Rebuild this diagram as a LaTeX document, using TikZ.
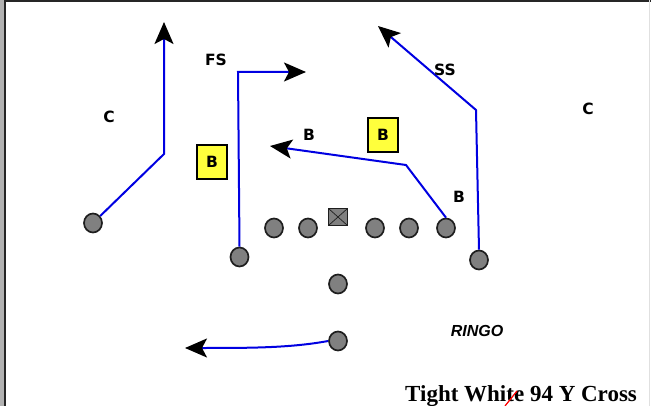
\documentclass[tikz,border=0pt]{standalone}
\usepackage{fontspec}
\setmainfont{Liberation Serif}
\newfontfamily\lblfont{DejaVu Sans}
\newfontfamily\ringofont{Liberation Sans}
\usetikzlibrary{arrows.meta,shapes.geometric}
\definecolor{routeblue}{RGB}{0,0,225}
\definecolor{plgray}{RGB}{128,128,128}
\definecolor{plline}{RGB}{30,30,30}
\definecolor{boxyellow}{RGB}{255,255,60}
\begin{document}
\begin{tikzpicture}[x=1pt,y=-1pt,
  player/.style={ellipse, draw=plline, fill=plgray, line width=1.7pt,
    minimum width=18pt, minimum height=19pt, inner sep=0pt},
  centerbox/.style={rectangle, draw=plline, fill=plgray, line width=1.7pt,
    minimum width=19pt, minimum height=17pt, inner sep=0pt,
    path picture={\draw[plline, line width=0.7pt]
      (path picture bounding box.north west) -- (path picture bounding box.south east)
      (path picture bounding box.north east) -- (path picture bounding box.south west);}},
  routeline/.style={draw=routeblue, line width=2pt, line join=miter},
  routetip/.style={-{Stealth[length=22pt,width=19pt,inset=5pt,color=black]}},
  lbl/.style={font=\lblfont\bfseries\fontsize{15.5}{15.5}\selectfont, inner sep=0pt},
  bbox/.style={draw=black, fill=boxyellow, line width=1.8pt, minimum width=30pt,
    minimum height=34pt, inner sep=0pt, font=\lblfont\bfseries\fontsize{15.5}{15.5}\selectfont},
]
\useasboundingbox (0,0) rectangle (651,406);
% frame
\fill[black!30] (0,0) rectangle (3.5,406);
\draw[black!85, line width=2pt] (5,0) -- (5,406);
\draw[black!85, line width=2pt] (4,1) -- (651,1);
\draw[black!12, line width=1pt] (649.5,0) -- (649.5,406);

% players
\node[player] (wr) at (93,223) {};
\node[player] (fs) at (239.5,257) {};
\node[player] (l1) at (274,228) {};
\node[player] (l2) at (308,228) {};
\node[centerbox] (c) at (338,217) {};
\node[player] (l3) at (375,228) {};
\node[player] (l4) at (409,228) {};
\node[player] (l5) at (446,228) {};
\node[player] (te) at (479,260) {};
\node[player] (qb) at (338,284) {};
\node[player] (rb) at (338,341) {};

% route coordinates
\coordinate (wrBend) at (164,154);
\coordinate (wrTip) at (164,22);
\coordinate (fsCorner) at (238,72);
\coordinate (fsTip) at (306,72);
\coordinate (l5Bend) at (406,165);
\coordinate (l5Tip) at (270,146);
\coordinate (teBend) at (476,110);
\coordinate (teTip) at (378,26);
\coordinate (rbTip) at (185,348);

% routes
\draw[routeline, routetip] (wr) -- (wrBend) -- (wrTip);
\draw[routeline, routetip] (fs.north) -- (fsCorner) -- (fsTip);
\draw[routeline, routetip] (l5.north) -- (l5Bend) -- (l5Tip);
\draw[routeline, routetip] (te.north) -- (teBend) -- (teTip);
\draw[routeline, routetip] (rb.west) .. controls (290,348) and (250,348) .. (rbTip);

% labels
\node[lbl] (cLeft) at (109,117) {C};
\node[lbl] (fsLbl) at (216,60) {FS};
\node[lbl] (ssLbl) at (445,70) {SS};
\node[lbl] (cRight) at (588,109) {C};
\node[lbl] (bLbl1) at (309,135) {B};
\node[lbl] (bLbl2) at (459,197) {B};
\node[bbox] (box1) at (212,162) {B};
\node[bbox] (box2) at (383,135) {B};
\node[inner sep=0pt, font=\ringofont\bfseries\itshape\fontsize{16}{16}\selectfont] (ringo) at (477,331) {RINGO};

% title
\node[anchor=base west, inner sep=0pt, font=\bfseries\fontsize{23}{23}\selectfont] (title) at (405,401) {Tight White 94 Y Cross};
\coordinate (redA) at (517,391);
\coordinate (redB) at (505,406);
\draw[red, line width=1.2pt] (redA) -- (redB);
\end{tikzpicture}
\end{document}
